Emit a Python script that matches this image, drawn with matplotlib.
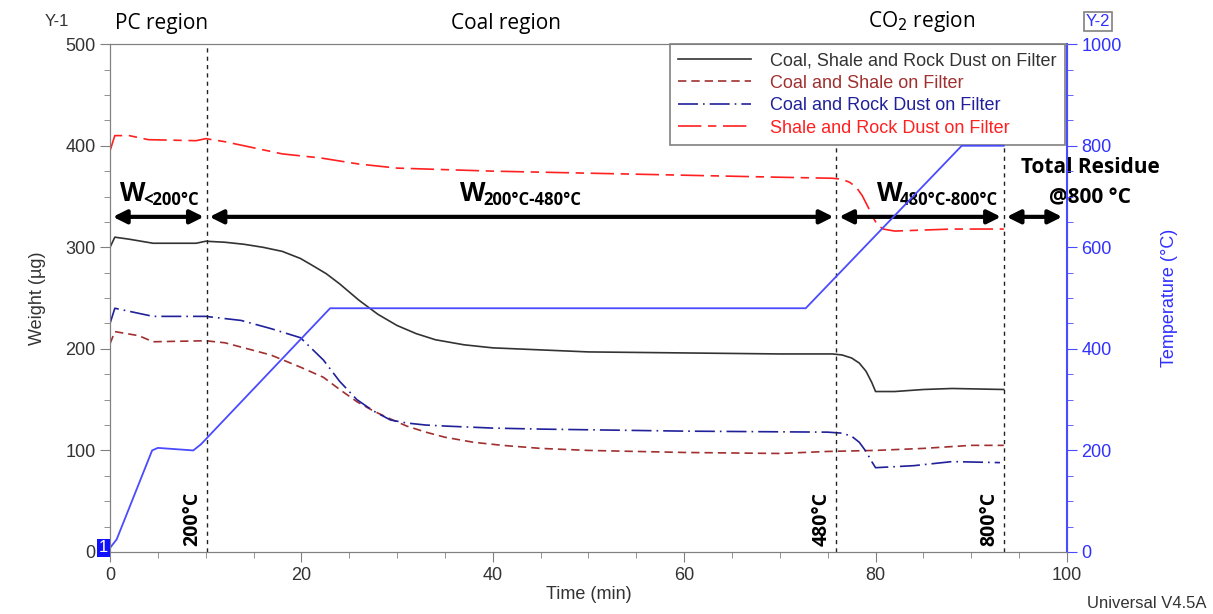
import matplotlib.pyplot as plt
from matplotlib.ticker import MultipleLocator

# TGA run: weight curves (ug) and furnace temperature (C) vs time (min)
t_csr = [0, 0.5, 2, 4.5, 9, 10, 12, 14, 16, 18, 19.9, 21, 22.6, 24, 25, 26, 27, 28, 30, 32, 34, 37, 40, 45, 50,
         60, 70, 75.5, 76.5, 77.5, 78.3, 79, 79.6, 80, 82, 85, 88, 93.4]
w_csr = [300, 310, 308, 304, 304, 306, 305, 303, 300, 296, 289, 283, 274, 264, 256, 248, 241, 234, 223, 215, 209, 204, 201, 199, 197,
         196, 195, 195, 194, 191, 186, 178, 167, 158, 158, 160, 161, 160]

t_cs = [0, 0.5, 3, 4.5, 10, 12, 14, 16.8, 19.9, 22.3, 24, 25.8, 27.5, 29.3, 31, 33, 35, 38, 41, 45, 50, 60, 70, 75, 80, 85, 90, 93.4]
w_cs = [205, 217, 213, 207, 208, 206, 201, 194, 182, 172, 160, 148, 139, 131, 124, 118, 113, 108, 105, 102, 100, 98, 97, 99, 100, 102, 105, 105]

t_crd = [0, 0.5, 3, 4.5, 10, 13.7, 16.8, 19.9, 22.3, 24, 25.8, 27.5, 29.3, 31, 33, 35, 40, 45, 60, 75, 76.5, 77.5, 78.3, 79, 79.6, 80, 84, 88, 93]
w_crd = [225, 240, 235, 232, 232, 228, 220, 211, 189, 168, 150, 139, 130, 127, 125, 124, 122, 121, 119, 118, 117, 114, 108, 99, 89, 83, 85, 89, 88]

t_srd = [0, 0.5, 2, 4, 9, 10, 12, 15, 18, 22, 26, 30, 40, 50, 60, 70, 75.5, 76.5, 77.3, 78, 78.6, 79.2, 79.7, 80.2, 80.8, 82, 88, 93.4]
w_srd = [395, 410, 410, 406, 405, 407, 404, 398, 392, 388, 382, 378, 375, 373, 371, 369, 368, 367, 364, 359, 351, 340, 330, 322, 318, 316, 318, 318]

t_temp = [0, 0.7, 4.4, 5, 8.7, 9.5, 23, 72.7, 89, 93.4]
temp = [8, 25, 200, 205, 200, 212, 480, 480, 800, 800]

# region boundaries (min) and their temperatures
bounds = [10.1, 75.9, 93.4]
bound_labels = ['200°C', '480°C', '800°C']

plt.rcParams['font.family'] = ['Liberation Sans', 'DejaVu Sans']
plt.rcParams['font.size'] = 13
calib = ['Open Sans', 'DejaVu Sans']

fig = plt.figure(figsize=(12.13, 6.14), dpi=100)
ax = fig.add_axes([0.0907, 0.101, 0.7889, 0.827])
ax2 = ax.twinx()

l1, = ax.plot(t_csr, w_csr, color='#333333', lw=1.2)
l2, = ax.plot(t_cs, w_cs, color='#a03030', lw=1.2, ls=(0, (5, 3)))
l3, = ax.plot(t_crd, w_crd, color='#20209a', lw=1.2, ls=(0, (12, 3, 1, 3)))
l4, = ax.plot(t_srd, w_srd, color='#ff2020', lw=1.2, ls=(0, (14, 4, 5, 4)))
ax2.plot(t_temp, temp, color='#4a4aff', lw=1.3)

ax.set_xlim(0, 100)
ax.set_ylim(0, 500)
ax2.set_ylim(0, 1000)
ax.xaxis.set_major_locator(MultipleLocator(20))
ax.xaxis.set_minor_locator(MultipleLocator(5))
ax.yaxis.set_major_locator(MultipleLocator(100))
ax.yaxis.set_minor_locator(MultipleLocator(25))
ax2.yaxis.set_major_locator(MultipleLocator(200))
ax2.yaxis.set_minor_locator(MultipleLocator(50))

for a in (ax, ax2):
    for s in a.spines.values():
        s.set_color('#808080')
ax2.spines['right'].set_color('#4a4aff')
ax2.spines['right'].set_linewidth(1.5)
ax.tick_params(which='both', color='#808080', labelcolor='#333333', labelsize=13)
ax.tick_params(which='major', length=7)
ax.tick_params(which='minor', length=4)
ax2.tick_params(which='both', color='#4a4aff', labelcolor='#3030ff', labelsize=13)
ax2.tick_params(which='major', length=7)
ax2.tick_params(which='minor', length=4)

ax.set_xlabel('Time (min)', fontsize=13, color='#333333', labelpad=2)
ax.set_ylabel('Weight (µg)', fontsize=13, color='#333333', labelpad=14)
ax2.set_ylabel('Temperature (°C)', fontsize=13, color='#3030ff', labelpad=28)

# boundaries between regions
for b, lab in zip(bounds, bound_labels):
    ax.axvline(b, color='#222222', lw=1, ls=(0, (3, 3)))
    ax.text(b - 0.5, 6, lab, rotation=90, ha='right', va='bottom',
            fontsize=14, fontweight='bold', family=calib)

# mass-loss arrows
y_arr = 330
arr_x = [0, 10.1, 75.9, 93.4, 99.8]
for x0, x1 in zip(arr_x[:-1], arr_x[1:]):
    ax.annotate('', xy=(x0 + 0.3, y_arr), xytext=(x1 - 0.3, y_arr),
                arrowprops=dict(arrowstyle='<|-|>', color='black', lw=3,
                                mutation_scale=20, shrinkA=0, shrinkB=0))


def wlabel(x, sub):
    ax.text(x, 340, 'W', fontsize=19, fontweight='bold', family=calib, va='bottom')
    ax.annotate(sub, (x, 340), xytext=(17, -2), textcoords='offset points',
                fontsize=12, fontweight='bold', family=calib, va='bottom')


wlabel(1.0, '<200°C')
wlabel(36.6, '200°C-480°C')
wlabel(80.1, '480°C-800°C')
ax.text(102.4, 368, 'Total Residue', fontsize=15, fontweight='bold', family=calib, ha='center', va='bottom', clip_on=False)
ax.text(102.4, 338, '@800 °C', fontsize=15, fontweight='bold', family=calib, ha='center', va='bottom', clip_on=False)

# region titles above the plot
ax.text(5.4, 510, 'PC region', fontsize=15, family=calib, ha='center', va='bottom', clip_on=False)
ax.text(41.4, 510, 'Coal region', fontsize=15, family=calib, ha='center', va='bottom', clip_on=False)
ax.text(84.8, 510, 'CO$_2$ region', fontsize=15, family=calib, ha='center', va='bottom', clip_on=False)

leg = ax.legend([l1, l2, l3, l4],
                ['Coal, Shale and Rock Dust on Filter', 'Coal and Shale on Filter',
                 'Coal and Rock Dust on Filter', 'Shale and Rock Dust on Filter'],
                loc='upper right', bbox_to_anchor=(0.998, 1.0), borderaxespad=0, fontsize=13,
                fancybox=False, framealpha=1, edgecolor='#808080',
                handlelength=4.0, handletextpad=1.1, borderpad=0.45, labelspacing=0.3)
leg.get_frame().set_linewidth(1.2)
for txt, c in zip(leg.get_texts(), ['#333333', '#a03030', '#20209a', '#ff2020']):
    txt.set_color(c)

fig.text(0.047, 0.958, 'Y-1', fontsize=12, color='#333333', ha='center')
fig.text(0.905, 0.958, 'Y-2', fontsize=12, color='#3030ff', ha='center',
         bbox=dict(boxstyle='square,pad=0.12', fc='white', ec='#808080', lw=1.2))
fig.text(0.995, 0.01, 'Universal V4.5A', fontsize=12, color='#333333', ha='right')
fig.text(0.0855, 0.108, '1', fontsize=12, color='white', ha='center', va='center',
         bbox=dict(boxstyle='square,pad=0.1', fc='#1010ff', ec='none'))

fig.savefig('out.png', dpi=100)
